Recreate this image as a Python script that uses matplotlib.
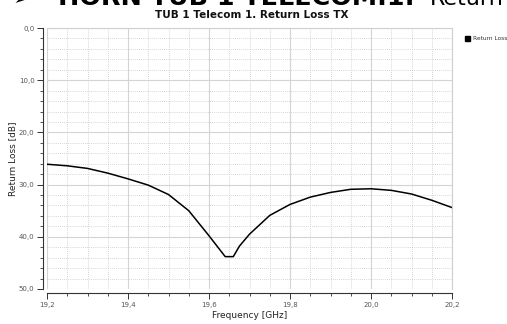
import matplotlib
matplotlib.use("Agg")
import matplotlib.pyplot as plt
from matplotlib.ticker import MultipleLocator, FuncFormatter

# Measured return loss of the TX port
freq_ghz = [19.20, 19.25, 19.30, 19.35, 19.40, 19.45, 19.50, 19.55, 19.60,
            19.625, 19.64, 19.66, 19.675, 19.70, 19.75, 19.80, 19.85, 19.90,
            19.95, 20.00, 20.05, 20.10, 20.15, 20.20]
return_loss_db = [26.1, 26.4, 26.9, 27.8, 28.9, 30.1, 31.9, 35.0, 39.8,
                  42.3, 43.8, 43.8, 41.8, 39.5, 35.9, 33.8, 32.4, 31.5,
                  30.9, 30.8, 31.1, 31.8, 33.0, 34.4]

title = "TUB 1 Telecom 1. Return Loss TX"
heading_bold = "HORN TUB 1 TELECOM.1:"
heading_rest = "Return"
series_name = "Return Loss"

W, H = 507, 324
fig = plt.figure(figsize=(W / 100, H / 100), dpi=100)
fig.patch.set_facecolor("white")

# plot area in pixels: left 47, right 452, top 28, bottom 289
left, right, top, bottom = 47, 452, 28, 289
ax = fig.add_axes([left / W, 1 - bottom / H, (right - left) / W, (bottom - top) / H])

ax.plot(freq_ghz, return_loss_db, color="black", lw=1.1, label=series_name)

ax.set_xlim(19.2, 20.2)
ax.set_ylim(50, 0)

ax.xaxis.set_major_locator(MultipleLocator(0.2))
ax.xaxis.set_minor_locator(MultipleLocator(0.05))
ax.yaxis.set_major_locator(MultipleLocator(10))
ax.yaxis.set_minor_locator(MultipleLocator(2))

comma = FuncFormatter(lambda v, p: f"{v:.1f}".replace(".", ","))
ax.xaxis.set_major_formatter(comma)
ax.yaxis.set_major_formatter(comma)

ax.grid(which="major", color="#d4d4d4", lw=0.8, ls="-")
ax.grid(which="minor", color="#c8c8c8", lw=0.6, ls=(0, (1, 1.5)))
ax.set_axisbelow(True)

for s in ("top", "right"):
    ax.spines[s].set_color("#cfcfcf")
    ax.spines[s].set_linewidth(0.8)
for s in ("left", "bottom"):
    ax.spines[s].set_position(("outward", 3))
    ax.spines[s].set_color("#333333")
    ax.spines[s].set_linewidth(0.8)

ax.tick_params(which="major", direction="out", length=4, width=0.7,
               color="#333333", labelsize=5, labelcolor="#555555", pad=2)
ax.tick_params(which="minor", direction="out", length=2.5, width=0.6,
               color="#333333")

ax.set_xlabel("Frequency [GHz]", fontsize=6.5, labelpad=2.5, color="#222222")
ax.set_ylabel("Return Loss [dB]", fontsize=6.5, labelpad=1, color="#222222")

fig.text(252 / W, 1 - 14.5 / H, title, ha="center", va="center",
         fontsize=7.5, fontweight="bold", color="#111111")

# slide heading above the chart, only its lower part falls inside the figure
base = 1 - 5 / H
fig.text(13 / W, base, "\u27a2", ha="left", va="baseline",
         fontsize=16, color="black")
fig.text(58 / W, base, heading_bold, ha="left", va="baseline",
         fontsize=18.3, fontweight="bold", color="black")
fig.text(430 / W, base, heading_rest, ha="left", va="baseline",
         fontsize=16, color="black")

# legend entry at the right margin
fig.patches.append(plt.Rectangle((465 / W, 1 - 41 / H), 5 / W, 5 / H,
                                 transform=fig.transFigure, color="black"))
fig.text(473 / W, 1 - 38.5 / H, series_name, ha="left", va="center",
         fontsize=4.2, color="#333333")

fig.savefig("out.png", dpi=100)
